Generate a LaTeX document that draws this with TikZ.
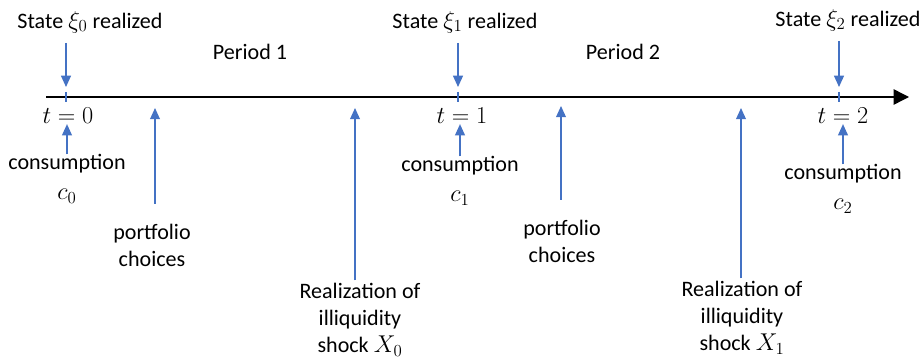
\documentclass[tikz,border=0pt]{standalone}
\usepackage{fontspec}
\setmainfont{Carlito}
\usetikzlibrary{arrows.meta}
\definecolor{tickblue}{RGB}{68,114,196}
\newcommand{\lblfont}{\fontsize{15.7}{19.2}\selectfont}
\newcommand{\mthfont}{\fontsize{17.5}{20}\selectfont}

\begin{document}
\begin{tikzpicture}[x=0.025cm,y=-0.025cm]
        \tikzstyle{every node}=[font=\lblfont,align=center,inner sep=0pt]
        \tikzstyle{blu}=[draw=tickblue,line width=1pt,-{Triangle[width=7pt,length=8pt]}]
        \tikzstyle{tick}=[draw=tickblue,line width=2pt]
            \useasboundingbox (0,0) rectangle (920,360);

            % time axis
            \coordinate (start) at (46,97);
            \coordinate (end) at (909,97);
            \draw[line width=1pt,-{Triangle[width=11pt,length=11pt]}] (start) -- (end);
            \draw[tick] (66,92) -- (66,102);
            \draw[tick] (458,92) -- (458,102);
            \draw[tick] (839,92) -- (839,102);

            % tips on the axis
            \coordinate (d0) at (66,87);
            \coordinate (d1) at (458,87);
            \coordinate (d2) at (839,87);
            \coordinate (pa0) at (155,108);
            \coordinate (pa1) at (561,106);
            \coordinate (ra0) at (355,108);
            \coordinate (ra1) at (741,108);

            \node (s0) at (90,22) {State {\mthfont$\xi_0$} realized};
            \node (s1) at (465,22) {State {\mthfont$\xi_1$} realized};
            \node (s2) at (848,20) {State {\mthfont$\xi_2$} realized};
            \node (per1) at (250,52) {Period 1};
            \node (per2) at (623,52) {Period 2};

            \node[font=\mthfont] (t0) at (68,116) {$t=0$};
            \node[font=\mthfont] (t1) at (462,116) {$t=1$};
            \node[font=\mthfont] (t2) at (843,116) {$t=2$};

            \node (con0) at (67,179) {consumption\\[2pt]{\mthfont$c_0$}};
            \node (con1) at (460,181) {consumption\\[2pt]{\mthfont$c_1$}};
            \node (con2) at (843,189) {consumption\\[2pt]{\mthfont$c_2$}};

            \node (pc0) at (152,245) {portfolio\\choices};
            \node (pc1) at (562,241) {portfolio\\choices};

            \node (rz0) at (360,320) {Realization of\\illiquidity\\shock {\mthfont$X_0$}};
            \node (rz1) at (742,318) {Realization of\\illiquidity\\shock {\mthfont$X_1$}};

            \draw[blu,shorten <=7pt] (s0.south -| d0) -- (d0);
            \draw[blu,shorten <=7pt] (s1.south -| d1) -- (d1);
            \draw[blu,shorten <=7pt] (s2.south -| d2) -- (d2);
            \draw[blu] (con0.north) -- (con0.north |- t0.south);
            \draw[blu] (con1.north) -- (con1.north |- t1.south);
            \draw[blu] (con2.north) -- (con2.north |- t2.south);
            \draw[blu,shorten <=14pt] (pc0.north -| pa0) -- (pa0);
            \draw[blu,shorten <=14pt] (pc1.north -| pa1) -- (pa1);
            \draw[blu,shorten <=2pt] (rz0.north -| ra0) -- (ra0);
            \draw[blu,shorten <=2pt] (rz1.north -| ra1) -- (ra1);
        \end{tikzpicture}
\end{document}
